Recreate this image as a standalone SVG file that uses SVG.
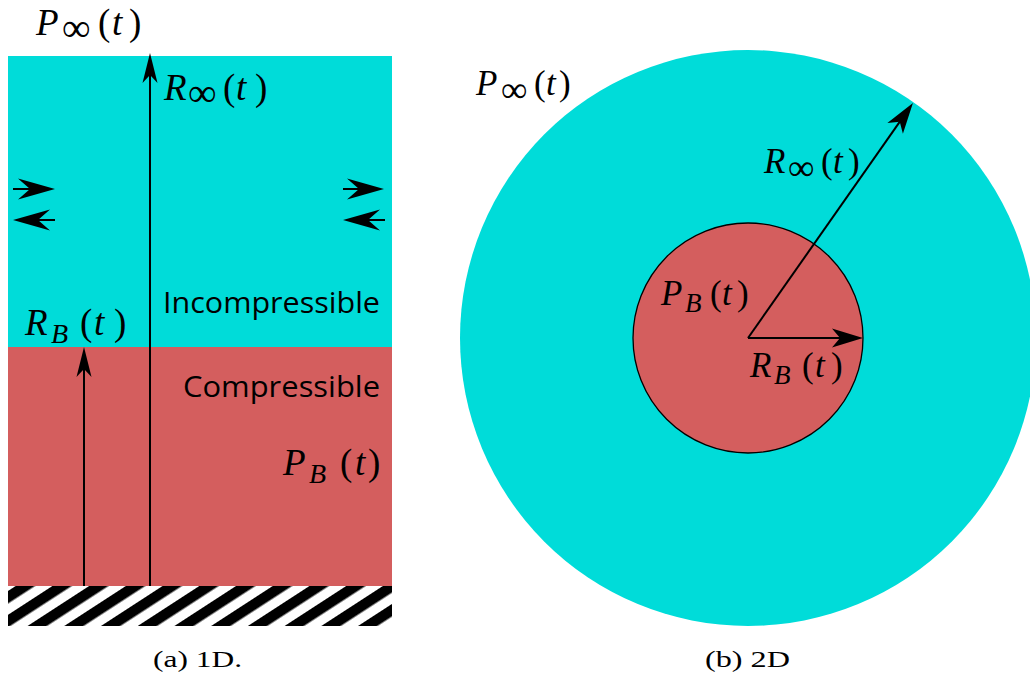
<svg xmlns="http://www.w3.org/2000/svg" width="1030" height="677" viewBox="0 0 1030 677">
<style>
.m{font-family:"Liberation Serif",serif;font-size:37px;fill:#000}
.i{font-style:italic}
.inf{font-size:40px}
.sb{font-size:28px;font-style:italic}
.ms{font-family:"Liberation Serif",serif;font-size:35px;fill:#000}
.ms .inf{font-size:37px}
.ms .sb{font-size:27px}
.sans{font-family:"Open Sans","Noto Sans",sans-serif;font-size:30px;fill:#000}
.cap{font-family:"Liberation Serif",serif;font-size:23px;fill:#000}
.ln{stroke:#000;stroke-width:2;fill:none}
.cyan{fill:#00dcd9}
.red{fill:#d45e5e}
</style>
<defs>
<marker id="hd" viewBox="-27 -11 35 22" refX="0" refY="0" markerWidth="35" markerHeight="22" markerUnits="userSpaceOnUse" orient="auto">
<path d="M6,0 L-25,-9.5 L-17,0 L-25,9.5 Z" fill="#000"/>
</marker>
<marker id="hv" viewBox="-26 -9 34 18" refX="0" refY="0" markerWidth="34" markerHeight="18" markerUnits="userSpaceOnUse" orient="auto">
<path d="M6,0 L-24,-7.5 L-16,0 L-24,7.5 Z" fill="#000"/>
</marker>
<marker id="hs" viewBox="-33 -12 41 24" refX="0" refY="0" markerWidth="41" markerHeight="24" markerUnits="userSpaceOnUse" orient="auto">
<path d="M6,0 L-31,-10.5 L-19,0 L-31,10.5 Z" fill="#000"/>
</marker>
<pattern id="hatch" patternUnits="userSpaceOnUse" width="20" height="20" patternTransform="rotate(-33)">
<rect x="0" y="0" width="20" height="10.5" fill="#000"/>
</pattern>
</defs>

<g id="panel-1d">
<rect id="incompressible-region" class="cyan" x="8" y="56" width="384" height="291"/>
<rect id="compressible-region" class="red" x="8" y="347" width="384" height="239"/>
<g id="wall">
<rect x="8" y="586" width="384" height="40" fill="#fff"/>
<rect x="8" y="586" width="384" height="40" fill="url(#hatch)"/>
</g>
</g>

<g id="panel-2d">
<circle id="outer-circle" class="cyan" cx="748" cy="338" r="288"/>
<circle id="bubble" class="red" cx="748" cy="338" r="115" stroke="#000" stroke-width="1.3"/>
</g>

<g id="connectors">
<line class="ln" x1="150" y1="586" x2="150" y2="59" marker-end="url(#hv)"/>
<line class="ln" x1="84" y1="586" x2="84" y2="353" marker-end="url(#hv)"/>
<line class="ln" x1="13" y1="189" x2="49" y2="189" marker-end="url(#hs)"/>
<line class="ln" x1="55" y1="220" x2="19" y2="220" marker-end="url(#hs)"/>
<line class="ln" x1="343" y1="189" x2="378" y2="189" marker-end="url(#hs)"/>
<line class="ln" x1="385" y1="220" x2="349" y2="220" marker-end="url(#hs)"/>
<line class="ln" x1="748" y1="338" x2="857" y2="338" marker-end="url(#hd)"/>
<line class="ln" x1="748" y1="338" x2="909.5" y2="107.9" marker-end="url(#hd)"/>
</g>

<g id="labels-1d">
<text class="m" y="35"><tspan class="i" x="36">P</tspan><tspan class="inf" x="62" y="41">∞</tspan><tspan x="98" y="35">(</tspan><tspan class="i" x="112">t</tspan><tspan x="129">)</tspan></text>
<text class="m" y="100"><tspan class="i" x="164">R</tspan><tspan class="inf" x="188" y="106">∞</tspan><tspan x="223" y="100">(</tspan><tspan class="i" x="236">t</tspan><tspan x="255">)</tspan></text>
<text class="m" y="335"><tspan class="i" x="25">R</tspan><tspan class="sb" x="51" y="343">B</tspan><tspan x="80" y="335">(</tspan><tspan class="i" x="94">t</tspan><tspan x="114">)</tspan></text>
<text class="m" y="475"><tspan class="i" x="283">P</tspan><tspan class="sb" x="309" y="483">B</tspan><tspan x="340" y="475">(</tspan><tspan class="i" x="355">t</tspan><tspan x="368">)</tspan></text>
<text class="sans" x="163" y="313" textLength="217" lengthAdjust="spacingAndGlyphs">Incompressible</text>
<text class="sans" x="183" y="397" textLength="197" lengthAdjust="spacingAndGlyphs">Compressible</text>
</g>

<g id="labels-2d">
<text class="ms" y="95"><tspan class="i" x="476">P</tspan><tspan class="inf" x="501" y="102">∞</tspan><tspan x="534" y="95">(</tspan><tspan class="i" x="546">t</tspan><tspan x="559">)</tspan></text>
<text class="ms" y="173"><tspan class="i" x="764">R</tspan><tspan class="inf" x="788" y="180">∞</tspan><tspan x="821" y="173">(</tspan><tspan class="i" x="833">t</tspan><tspan x="848">)</tspan></text>
<text class="ms" y="305"><tspan class="i" x="661">P</tspan><tspan class="sb" x="685" y="312">B</tspan><tspan x="710" y="305">(</tspan><tspan class="i" x="722">t</tspan><tspan x="737">)</tspan></text>
<text class="ms" y="377"><tspan class="i" x="750">R</tspan><tspan class="sb" x="774" y="384">B</tspan><tspan x="802" y="377">(</tspan><tspan class="i" x="815">t</tspan><tspan x="831">)</tspan></text>
</g>

<g id="captions">
<text class="cap" x="153" y="667" textLength="89" lengthAdjust="spacingAndGlyphs">(a) 1D.</text>
<text class="cap" x="705" y="667" textLength="85" lengthAdjust="spacingAndGlyphs">(b) 2D</text>
</g>
</svg>
